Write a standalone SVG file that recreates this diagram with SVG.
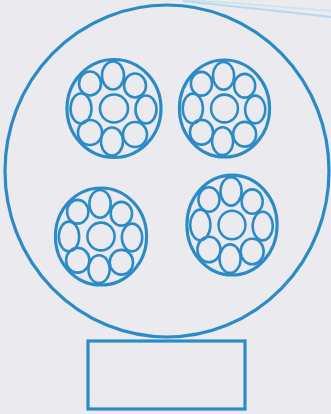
<svg xmlns="http://www.w3.org/2000/svg" width="331" height="414" viewBox="0 0 331 414">
<style>
.ln{fill:none;stroke:#2b8bc6;stroke-width:3.2}
.sm{fill:none;stroke:#2b8bc6;stroke-width:2.6}
</style>
<defs>
<g id="bundle">
<ellipse class="ln" cx="0" cy="0" rx="47" ry="49"/>
<circle class="sm" cx="0" cy="0" r="14"/>
<ellipse class="sm" cx="-1" cy="-33" rx="11" ry="14"/>
<ellipse class="sm" cx="-2" cy="33" rx="11" ry="14"/>
<ellipse class="sm" cx="-33" cy="0" rx="10.5" ry="15"/>
<ellipse class="sm" cx="32" cy="1" rx="10.5" ry="14"/>
<ellipse class="sm" cx="-24" cy="-25" rx="11" ry="12"/>
<ellipse class="sm" cx="21" cy="-23" rx="11" ry="12"/>
<ellipse class="sm" cx="-24" cy="24" rx="12" ry="12.5"/>
<ellipse class="sm" cx="21" cy="26" rx="12" ry="12.5"/>
</g>
</defs>
<rect width="331" height="414" fill="#eaeaef"/>
<path d="M183 1 C230 6 290 12 331 17" fill="none" stroke="#9fd3ea" stroke-width="2" opacity="0.7"/>
<path d="M188 0 C240 3 290 8 331 11" fill="none" stroke="#b6def0" stroke-width="1.5" opacity="0.6"/>
<g id="housing"><ellipse class="ln" cx="167" cy="171" rx="162" ry="166"/></g>
<g id="bundle-tl"><use href="#bundle" transform="translate(114,108.5)"/></g>
<g id="bundle-tr"><use href="#bundle" transform="translate(224.5,108.5) scale(0.96,0.99)"/></g>
<g id="bundle-bl"><use href="#bundle" transform="translate(101,236.5) scale(0.97,0.99)"/></g>
<g id="bundle-br"><use href="#bundle" transform="translate(232,225) scale(0.96,1.02)"/></g>
<g id="base"><rect class="ln" x="88" y="341" width="157" height="68"/></g>
</svg>
